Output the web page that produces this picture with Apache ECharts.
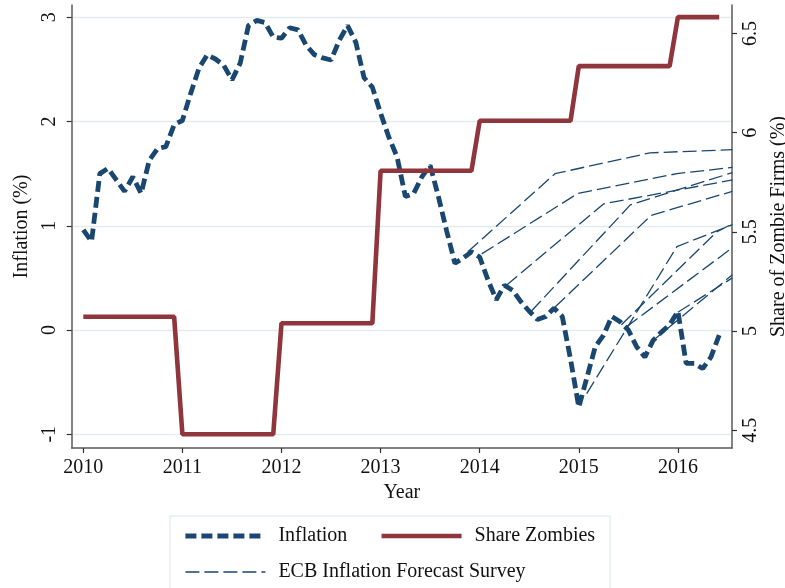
<!DOCTYPE html>
<html><head><meta charset="utf-8">
<script src="https://cdn.jsdelivr.net/npm/echarts@6/dist/echarts.min.js"></script>
<style>html,body{margin:0;padding:0;background:#fff}#c{width:785px;height:588px}</style>
</head><body><div id="c"></div>
<script>
// ---- data ----
const startYear = 2010;
const inflation = [
  0.96, 0.85, 1.50, 1.55, 1.44, 1.33, 1.47, 1.31, 1.63, 1.74, 1.76, 1.97,
  2.01, 2.27, 2.51, 2.64, 2.60, 2.54, 2.40, 2.56, 2.92, 2.97, 2.95, 2.81,
  2.80, 2.90, 2.88, 2.73, 2.64, 2.61, 2.59, 2.78, 2.92, 2.76, 2.42, 2.33,
  2.08, 1.85, 1.66, 1.28, 1.31, 1.47, 1.58, 1.28, 0.95, 0.64, 0.69, 0.75,
  0.70, 0.48, 0.29, 0.43, 0.38, 0.27, 0.18, 0.10, 0.13, 0.21, 0.13, -0.28,
  -0.74, -0.45, -0.16, -0.05, 0.13, 0.08, 0.00, -0.16, -0.26, -0.10, -0.02, 0.05,
  0.18, -0.32, -0.32, -0.37, -0.26, -0.05
];
const zombieYears = [2010, 2011, 2012, 2013, 2014, 2015, 2016];
const zombieShare = [5.072, 4.479, 5.039, 5.808, 6.06, 6.336, 6.583];
const zombieMonths = [12, 12, 12, 12, 12, 12, 6];
const ecbForecasts = [
  [[2013.88, 0.75], [2014.76, 1.50], [2015.72, 1.70], [2016.55, 1.73]],
  [[2014.02, 0.73], [2014.99, 1.31], [2015.99, 1.50], [2016.55, 1.56]],
  [[2014.27, 0.43], [2015.25, 1.21], [2016.55, 1.44]],
  [[2014.52, 0.18], [2015.52, 1.20], [2016.55, 1.51]],
  [[2014.76, 0.22], [2015.73, 1.10], [2016.55, 1.33]],
  [[2015.08, -0.61], [2015.99, 0.80], [2016.55, 1.01]],
  [[2015.43, 0.05], [2016.39, 0.94], [2016.55, 1.02]],
  [[2015.48, 0.03], [2016.55, 0.79]],
  [[2015.75, -0.10], [2016.55, 0.53]],
  [[2016.00, 0.17], [2016.55, 0.50]]
];
const xTicks = [2010, 2011, 2012, 2013, 2014, 2015, 2016];
const leftTicks = [-1, 0, 1, 2, 3];
const rightTicks = [4.5, 5, 5.5, 6, 6.5];

// ---- build ----
const NAVY = '#1a476f', MAROON = '#90353b';
const FONT = 'Liberation Serif';
const inflData = inflation.map((v, i) => [startYear + i / 12, v]);
const zombieData = [];
zombieYears.forEach((y, k) => {
  zombieData.push([y, zombieShare[k]]);
  zombieData.push([y + (zombieMonths[k] - 1) / 12, zombieShare[k]]);
});

const inflLine = { color: NAVY, width: 4.8, type: [11, 5], cap: 'butt' };
const zombieLine = { color: MAROON, width: 4.6, type: 'solid' };
const ecbLine = { color: NAVY, width: 1.3, type: [14, 5] };

const series = [
  {
    name: 'grid', type: 'line', data: [], z: 0, silent: true,
    markLine: {
      silent: true, symbol: 'none', label: { show: false }, z: 0,
      lineStyle: { color: '#e2eced', width: 1.4, type: 'solid' },
      data: leftTicks.map(v => ({ yAxis: v }))
    }
  },
  { name: 'Inflation', type: 'line', data: inflData, symbol: 'none', z: 2, lineStyle: inflLine, itemStyle: { color: NAVY } },
  { name: 'Share Zombies', type: 'line', yAxisIndex: 1, data: zombieData, symbol: 'none', z: 3, lineStyle: zombieLine, itemStyle: { color: MAROON } }
];
ecbForecasts.forEach(f => series.push({
  name: 'ECB Inflation Forecast Survey', type: 'line', data: f, symbol: 'none', z: 4,
  lineStyle: ecbLine, itemStyle: { color: NAVY }
}));

const axisLineStyle = { color: '#5a5a5a', width: 1.5 };
const labelStyle = { fontFamily: FONT, fontSize: 20, color: '#111' };
const tickStyle = { color: '#333', width: 1.2 };
const option = {
  animation: false,
  backgroundColor: '#fff',
  grid: { left: 71.7, right: 53, top: 5, bottom: 140, containLabel: false, outerBoundsMode: 'none' },
  xAxis: {
    type: 'value', min: 2009.883, max: 2016.546,
    name: 'Year', nameLocation: 'middle', nameGap: 33,
    nameTextStyle: labelStyle,
    axisLine: { show: true, onZero: false, lineStyle: axisLineStyle },
    axisTick: { show: true, length: 5, customValues: xTicks, lineStyle: tickStyle },
    axisLabel: { customValues: xTicks, margin: 10, ...labelStyle, formatter: v => String(Math.round(v)) },
    splitLine: { show: false }
  },
  yAxis: [
    {
      type: 'value', min: -1.132, max: 3.118, position: 'left',
      name: 'Inflation (%)', nameLocation: 'middle', nameGap: 38, nameRotate: 90,
      nameTextStyle: labelStyle,
      axisLine: { show: true, onZero: false, lineStyle: axisLineStyle },
      axisTick: { show: true, length: 5, customValues: leftTicks, lineStyle: tickStyle },
      axisLabel: { customValues: leftTicks, rotate: 90, margin: 12, ...labelStyle, formatter: v => String(Math.round(v)) },
      splitLine: { show: false }
    },
    {
      type: 'value', min: 4.41, max: 6.644, position: 'right',
      name: 'Share of Zombie Firms (%)', nameLocation: 'middle', nameGap: 29, nameRotate: 90,
      nameTextStyle: labelStyle,
      axisLine: { show: true, onZero: false, lineStyle: axisLineStyle },
      axisTick: { show: true, length: 5, customValues: rightTicks, lineStyle: tickStyle },
      axisLabel: { customValues: rightTicks, rotate: 90, margin: 9, ...labelStyle, formatter: v => String(v) },
      splitLine: { show: false }
    }
  ],
  legend: {
    data: [
      { name: 'Inflation', lineStyle: inflLine, textStyle: { padding: [0, 24, 0, 8] } },
      { name: 'Share Zombies', lineStyle: zombieLine, textStyle: { padding: [0, 0, 0, 8] } },
      { name: 'ECB Inflation Forecast Survey', lineStyle: { ...ecbLine, width: 1.5 }, textStyle: { padding: [0, 0, 0, 8] } }
    ],
    left: 170, top: 516, width: 450, orient: 'horizontal',
    padding: [6, 15, 6, 13],
    itemWidth: 80, itemHeight: 14, itemGap: 8,
    itemStyle: { opacity: 0, color: 'rgba(0,0,0,0)', borderWidth: 0 },
    borderColor: '#d9e6e8', borderWidth: 1,
    textStyle: { fontFamily: FONT, fontSize: 20, color: '#111', lineHeight: 28 }
  },
  series
};
const chart = echarts.init(document.getElementById('c'), null, { renderer: 'canvas' });
chart.setOption(option);
</script></body></html>
